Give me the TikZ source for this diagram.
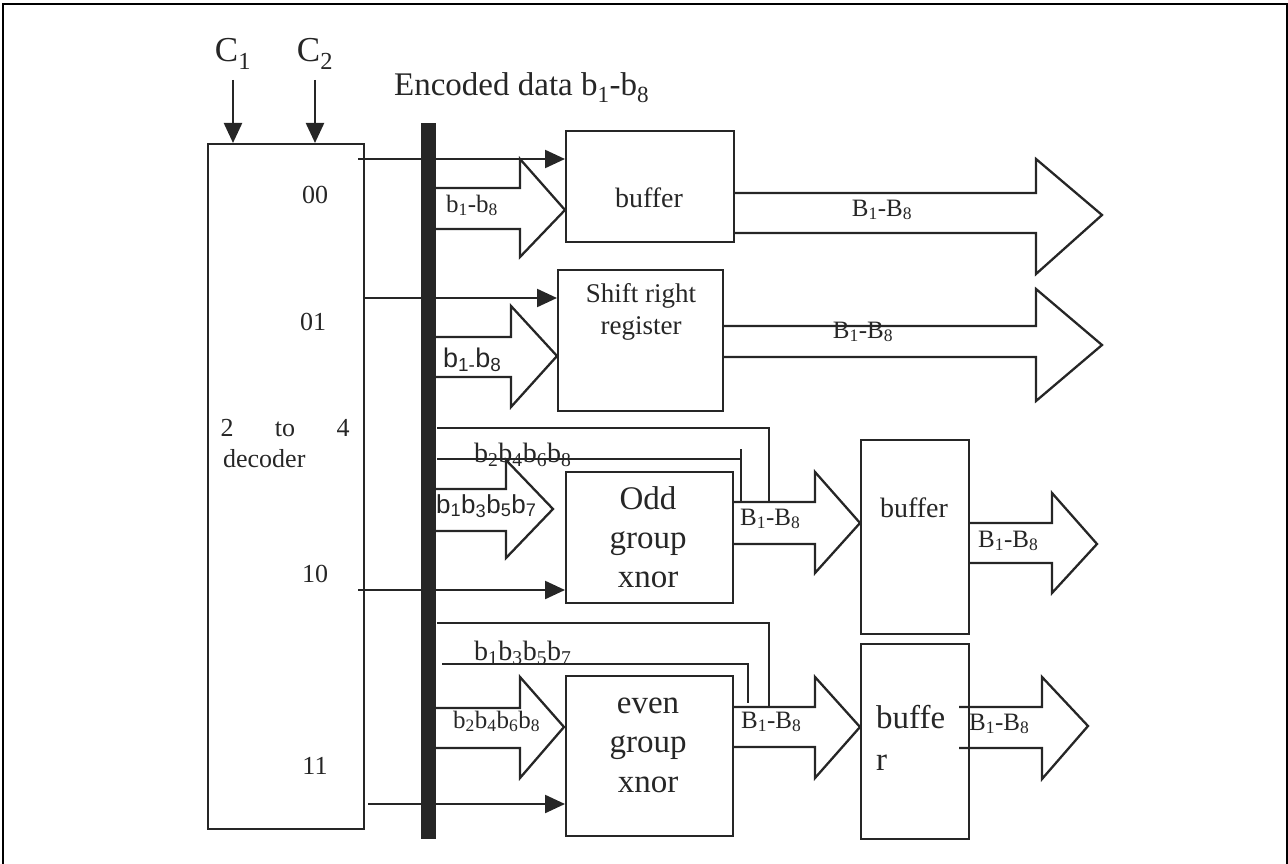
\documentclass[tikz,border=0pt]{standalone}
\usepackage{fontspec}
\setmainfont{Liberation Serif}
\setsansfont{Liberation Sans}
\usetikzlibrary{arrows.meta}
\newcommand\fatarrow[8]{\draw[line join=miter] (#1,#3) -- (#2,#3) -- (#2,#5) -- (#7,#8) -- (#2,#6) -- (#2,#4) -- (#1,#4);}
\newcommand\fs[1]{\fontsize{#1}{#1}\selectfont}
\begin{document}
\begin{tikzpicture}[x=1pt,y=-1pt, line width=2.3pt, color={black!85},
  box/.style={draw, rectangle, inner sep=0pt, anchor=north west},
  arr/.style={-{Triangle[length=20pt,width=18pt]}},
  lb/.style={inner sep=0pt, anchor=base west},
  lc/.style={inner sep=0pt, anchor=base},
  thin/.style={line width=2pt},
]
\useasboundingbox (0,0) rectangle (1288,864);
\draw[thin, black] (3,864) -- (3,4) -- (1287,4) -- (1287,864);

% boxes
\node[box, minimum width=156pt, minimum height=685pt] (dec) at (207,143) {};
\node[fill, inner sep=0pt, anchor=north west, minimum width=15pt, minimum height=716pt] (bus) at (420,122) {};
\node[box, minimum width=168pt, minimum height=111pt] (buf1) at (565,130) {};
\node[box, minimum width=165pt, minimum height=141pt] (shift) at (557,269) {};
\node[box, minimum width=167pt, minimum height=131pt] (odd) at (565,471) {};
\node[box, minimum width=108pt, minimum height=194pt] (buf3) at (860,439) {};
\node[box, minimum width=167pt, minimum height=160pt] (even) at (565,675) {};
\node[box, minimum width=108pt, minimum height=195pt] (buf4) at (860,643) {};

% control inputs
\node[lc, font=\fs{35}] (lc1) at (233,62) {C\textsubscript{1}};
\node[lc, font=\fs{35}] (lc2) at (315,62) {C\textsubscript{2}};
\coordinate (c1) at (233,80);
\coordinate (c2) at (315,80);
\draw[arr] (c1) -- (c1 |- dec.north);
\draw[arr] (c2) -- (c2 |- dec.north);
\node[lb, font=\fs{33}] (enc) at (393,96) {Encoded data b\textsubscript{1}-b\textsubscript{8}};

% decoder labels
\node[lc, font=\fs{26}] (o00) at (315,204) {00};
\node[lc, font=\fs{26}] (o01) at (313,330) {01};
\node[lc, font=\fs{26}] (o10) at (315,582) {10};
\node[lc, font=\fs{26}] (o11) at (315,774) {11};
\node[lc, font=\fs{26}] (t2) at (227,436) {2};
\node[lc, font=\fs{26}] (tto) at (285,436) {to};
\node[lc, font=\fs{26}] (t4) at (343,436) {4};
\node[lb, font=\fs{26}] (tdec) at (222,467) {decoder};

% decoder outputs
\coordinate (d00) at (358,159);
\coordinate (d01) at (363,298);
\coordinate (d10) at (358,590);
\coordinate (d11) at (368,804);
\draw[arr] (d00) -- (d00 -| buf1.west);
\draw[arr] (d01) -- (d01 -| shift.west);
\draw[arr] (d10) -- (d10 -| odd.west);
\draw[arr] (d11) -- (d11 -| even.west);

% box texts
\node[lc, font=\fs{28}] (tb1) at (649,207) {buffer};
\node[lc, font=\fs{27}] (ts1) at (641,302) {Shift right};
\node[lc, font=\fs{27}] (ts2) at (641,334) {register};
\node[lc, font=\fs{33}] (to1) at (648,509) {Odd};
\node[lc, font=\fs{33}] (to2) at (648,548) {group};
\node[lc, font=\fs{33}] (to3) at (648,587) {xnor};
\node[lc, font=\fs{33}] (te1) at (648,713) {even};
\node[lc, font=\fs{33}] (te2) at (648,752) {group};
\node[lc, font=\fs{33}] (te3) at (648,792) {xnor};
\node[lc, font=\fs{28}] (tb3) at (914,517) {buffer};
\node[lb, font=\fs{33}] (tb4a) at (875,728) {buffe};
\node[lb, font=\fs{33}] (tb4b) at (875,770) {r};

% fat arrows
\fatarrow{435}{520}{188}{229}{159}{257}{565}{210}
\fatarrow{733}{1036}{193}{233}{159}{274}{1102}{215}
\fatarrow{435}{511}{337}{377}{306}{407}{557}{356}
\fatarrow{722}{1036}{326}{357}{289}{401}{1102}{345}
\fatarrow{435}{506}{489}{531}{460}{558}{553}{509}
\fatarrow{732}{815}{502}{544}{472}{573}{860}{523}
\fatarrow{968}{1052}{523}{563}{493}{593}{1097}{544}
\fatarrow{435}{520}{708}{748}{677}{778}{564}{727}
\fatarrow{732}{815}{707}{747}{677}{778}{860}{727}
\fatarrow{959}{1042}{707}{748}{677}{779}{1088}{726}

% thin bus lines
\draw[thin] (bus.east |- 0,428) -- (769,428) -- (769,502);
\draw[thin] (bus.east |- 0,459) -- (741,459);
\draw[thin] (741,449) -- (741,502);
\draw[thin] (bus.east |- 0,623) -- (769,623) -- (769,707);
\draw[thin] (442,664) -- (748,664) -- (748,703);

% data labels
\node[lb, font=\fs{25}] (l1) at (445,212) {b\textsubscript{1}-b\textsubscript{8}};
\node[lb, font=\sffamily\fs{27}] (l2) at (442,367) {b\textsubscript{1-}b\textsubscript{8}};
\node[lb, font=\fs{28}] (l3) at (473,462) {b\textsubscript{2}b\textsubscript{4}b\textsubscript{6}b\textsubscript{8}};
\node[lb, font=\sffamily\fs{26}] (l4) at (435,513) {b\textsubscript{1}b\textsubscript{3}b\textsubscript{5}b\textsubscript{7}};
\node[lb, font=\fs{28}] (l5) at (473,660) {b\textsubscript{1}b\textsubscript{3}b\textsubscript{5}b\textsubscript{7}};
\node[lb, font=\fs{25}] (l6) at (452,728) {b\textsubscript{2}b\textsubscript{4}b\textsubscript{6}b\textsubscript{8}};

\node[lc, font=\fs{25}] (r1) at (882,216) {B\textsubscript{1}-B\textsubscript{8}};
\node[lc, font=\fs{25}] (r2) at (863,338) {B\textsubscript{1}-B\textsubscript{8}};
\node[lb, font=\fs{25}] (r3) at (739,525) {B\textsubscript{1}-B\textsubscript{8}};
\node[lb, font=\fs{25}] (r4) at (977,547) {B\textsubscript{1}-B\textsubscript{8}};
\node[lb, font=\fs{25}] (r5) at (740,728) {B\textsubscript{1}-B\textsubscript{8}};
\node[lb, font=\fs{25}] (r6) at (968,730) {B\textsubscript{1}-B\textsubscript{8}};
\end{tikzpicture}
\end{document}
